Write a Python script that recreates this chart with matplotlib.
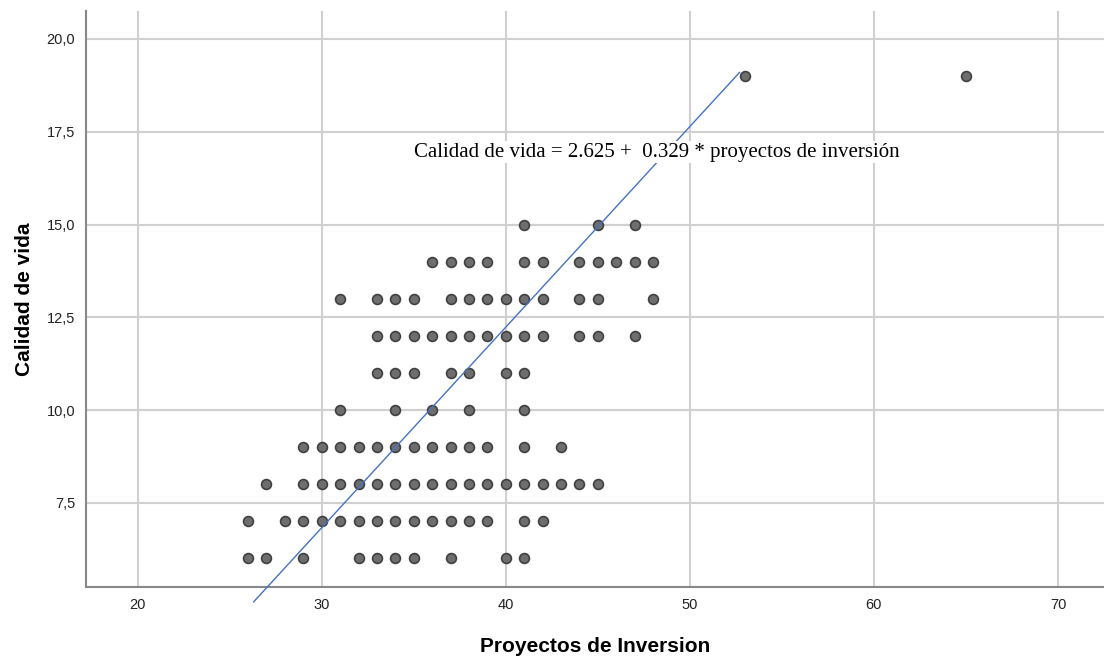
"""Scatter of calidad de vida vs proyectos de inversion (SPSS style)
"""
import numpy as np
import matplotlib
matplotlib.use('Agg')
import matplotlib.pyplot as plt
from matplotlib.ticker import FuncFormatter

# proyectos de inversion values found at each calidad de vida level
rows = {
    6: [26, 27, 29, 32, 33, 34, 35, 37, 40, 41],
    7: [26, 28, 29, 30, 31, 32, 33, 34, 35, 36, 37, 38, 39, 41, 42],
    8: [27, 29, 30, 31, 32, 33, 34, 35, 36, 37, 38, 39, 40, 41, 42, 43, 44, 45],
    9: [29, 30, 31, 32, 33, 34, 35, 36, 37, 38, 39, 41, 43],
    10: [31, 34, 36, 38, 41],
    11: [33, 34, 35, 37, 38, 40, 41],
    12: [33, 34, 35, 36, 37, 38, 39, 40, 41, 42, 44, 45, 47],
    13: [31, 33, 34, 35, 37, 38, 39, 40, 41, 42, 44, 45, 48],
    14: [36, 37, 38, 39, 41, 42, 44, 45, 46, 47, 48],
    15: [41, 45, 47],
    19: [53, 65],
}

# fit line as drawn (end points)
line_x = [26.3, 52.7]
line_y = [4.83, 19.1]

x_ticks = [20, 30, 40, 50, 60, 70]
y_ticks = [7.5, 10.0, 12.5, 15.0, 17.5, 20.0]

eq_text = 'Calidad de vida = 2.625 +  0.329 * proyectos de inversión'

xs = np.concatenate([rows[k] for k in rows])
ys = np.concatenate([[k] * len(rows[k]) for k in rows])

fig = plt.figure(figsize=(11.04, 6.57), dpi=100)
ax = fig.add_axes([0.078, 0.107, 0.922, 0.876])

ax.set_xlim(17.2, 72.5)
ax.set_ylim(5.24, 20.75)
ax.set_xticks(x_ticks)
ax.set_yticks(y_ticks)
ax.yaxis.set_major_formatter(FuncFormatter(lambda v, p: ('%.1f' % v).replace('.', ',')))
ax.tick_params(length=0, labelsize=10.5, colors='#222222', pad=8)
for lab in ax.get_xticklabels() + ax.get_yticklabels():
    lab.set_family('Liberation Sans')

ax.grid(True, color='#d0d0d0', linewidth=1.5)
ax.set_axisbelow(True)
for s in ['top', 'right']:
    ax.spines[s].set_visible(False)
for s in ['left', 'bottom']:
    ax.spines[s].set_color('#888888')
    ax.spines[s].set_linewidth(1.5)

ax.scatter(xs, ys, s=50, facecolor='#6e6e6e', edgecolor='#404040',
           linewidth=1.2, zorder=3)

ax.plot(line_x, line_y, color='#4472c4', linewidth=1, zorder=4, clip_on=False)

ax.text(48.2, 16.95, eq_text, family='Liberation Serif', fontsize=15,
        ha='center', va='center', zorder=5,
        bbox=dict(facecolor='white', edgecolor='none', pad=1))

ax.set_xlabel('Proyectos de Inversion', family='Liberation Sans', fontsize=15,
              fontweight='bold', labelpad=18)
ax.set_ylabel('Calidad de vida', family='Liberation Sans', fontsize=15,
              fontweight='bold', labelpad=9)

fig.savefig('out.png', dpi=100)
